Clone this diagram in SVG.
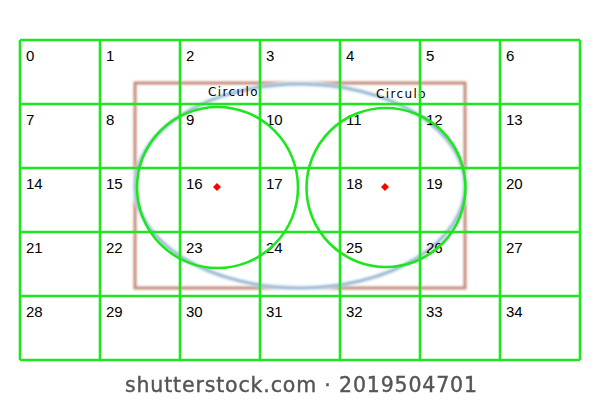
<svg xmlns="http://www.w3.org/2000/svg" width="600" height="400" viewBox="0 0 600 400">
<defs>
<filter id="blur" x="-10%" y="-10%" width="120%" height="120%"><feGaussianBlur stdDeviation="0.8"/></filter>
<filter id="blur2" x="-10%" y="-10%" width="120%" height="120%"><feGaussianBlur stdDeviation="0.7"/></filter>
</defs>
<style>
.lbl{font-family:"Liberation Sans",Arial,sans-serif;font-size:15px;fill:#000}
.circ{font-family:"DejaVu Sans",sans-serif;font-size:12px;letter-spacing:1.4px;fill:#000}
.grid{stroke:#1ee61e;stroke-width:2.6;fill:none}
.gc{stroke:#1ee61e;stroke-width:2.6;fill:none}
.dot{fill:#ff0000}
</style>
<rect width="600" height="400" fill="#ffffff"/>
<g id="background" filter="url(#blur)">
<rect x="135" y="83" width="330" height="205" fill="none" stroke="#c48a78" stroke-width="3"/>
<ellipse cx="300" cy="186" rx="165" ry="102" fill="none" stroke="#dbe9f3" stroke-width="5"/>
<ellipse cx="300" cy="186" rx="165" ry="102" fill="none" stroke="#7ea6c8" stroke-width="2"/>
</g>
<g id="circulo-labels">
<text class="circ" x="208" y="96">Circulo</text>
<text class="circ" x="376" y="98">Circulo</text>
</g>
<g id="grid">
<path class="grid" d="M20,40H580M20,104H580M20,168H580M20,232H580M20,296H580M20,360H580M20,40V360M100,40V360M180,40V360M260,40V360M340,40V360M420,40V360M500,40V360M580,40V360"/>
</g>
<g id="cell-labels">
<text class="lbl" x="26" y="61">0</text><text class="lbl" x="106" y="61">1</text><text class="lbl" x="186" y="61">2</text><text class="lbl" x="266" y="61">3</text><text class="lbl" x="346" y="61">4</text><text class="lbl" x="426" y="61">5</text><text class="lbl" x="506" y="61">6</text>
<text class="lbl" x="26" y="125">7</text><text class="lbl" x="106" y="125">8</text><text class="lbl" x="186" y="125">9</text><text class="lbl" x="266" y="125">10</text><text class="lbl" x="346" y="125">11</text><text class="lbl" x="426" y="125">12</text><text class="lbl" x="506" y="125">13</text>
<text class="lbl" x="26" y="189">14</text><text class="lbl" x="106" y="189">15</text><text class="lbl" x="186" y="189">16</text><text class="lbl" x="266" y="189">17</text><text class="lbl" x="346" y="189">18</text><text class="lbl" x="426" y="189">19</text><text class="lbl" x="506" y="189">20</text>
<text class="lbl" x="26" y="253">21</text><text class="lbl" x="106" y="253">22</text><text class="lbl" x="186" y="253">23</text><text class="lbl" x="266" y="253">24</text><text class="lbl" x="346" y="253">25</text><text class="lbl" x="426" y="253">26</text><text class="lbl" x="506" y="253">27</text>
<text class="lbl" x="26" y="317">28</text><text class="lbl" x="106" y="317">29</text><text class="lbl" x="186" y="317">30</text><text class="lbl" x="266" y="317">31</text><text class="lbl" x="346" y="317">32</text><text class="lbl" x="426" y="317">33</text><text class="lbl" x="506" y="317">34</text>
</g>
<g id="circle-left">
<circle class="gc" cx="217.5" cy="187.5" r="80.5"/>
<polygon class="dot" points="217,183 221,187 217,191 213,187"/>
</g>
<g id="circle-right">
<circle class="gc" cx="386" cy="187.5" r="79.5"/>
<polygon class="dot" points="385,183 389,187 385,191 381,187"/>
</g>
<g id="watermark" filter="url(#blur2)">
<text x="125" y="392" textLength="352" lengthAdjust="spacing" font-family="'DejaVu Sans',sans-serif" font-size="20.5" fill="#555555" stroke="#555555" stroke-width="0.4">shutterstock.com · 2019504701</text>
</g>
</svg>
